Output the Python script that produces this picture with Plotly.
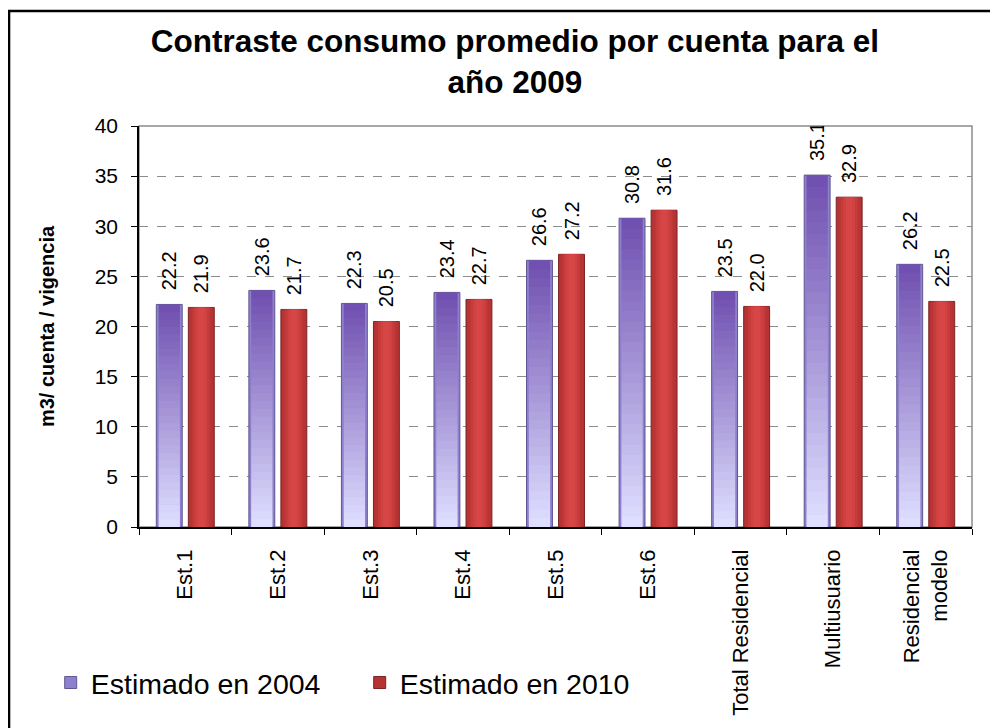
import plotly.graph_objects as go

categorias = ["Est.1", "Est.2", "Est.3", "Est.4", "Est.5", "Est.6",
              "Total Residencial", "Multiusuario", "Residencial<br>modelo"]
estimado_2004 = [22.2, 23.6, 22.3, 23.4, 26.6, 30.8, 23.5, 35.1, 26.2]
estimado_2010 = [21.9, 21.7, 20.5, 22.7, 27.2, 31.6, 22.0, 32.9, 22.5]

FONT = "Liberation Sans, Arial, sans-serif"
BAR_W = 0.28
OFF_04 = -0.313
OFF_10 = 0.033


def mix(c1, c2, t):
    a = [int(c1[i:i + 2], 16) for i in (1, 3, 5)]
    b = [int(c2[i:i + 2], 16) for i in (1, 3, 5)]
    return "rgb(%d,%d,%d)" % tuple(round(a[j] + (b[j] - a[j]) * t) for j in range(3))


def etiquetas(vals):
    return ["\u00a0\u00a0" + f"{v:.1f}" for v in vals]


fig = go.Figure()

# barra base 2004 (leyenda + etiquetas)
fig.add_trace(go.Bar(
    x=categorias, y=estimado_2004, name="Estimado en 2004",
    offset=OFF_04, width=BAR_W,
    marker=dict(color="#8f7fcf", line=dict(color="#5f5890", width=1)),
    text=etiquetas(estimado_2004), textposition="outside", textangle=-90,
    constraintext="none", textfont=dict(size=20, color="black", family=FONT),
))
# degradado vertical 2004: claro abajo, oscuro arriba
N = 30
inner = BAR_W - 0.05
for k in range(N):
    fig.add_trace(go.Bar(
        x=categorias, y=[v / N * (1.08 if k < N - 1 else 1) for v in estimado_2004],
        base=[v * k / N for v in estimado_2004],
        offset=OFF_04 + 0.025, width=inner,
        marker=dict(color=mix("#dedeff", "#7050b0", k / (N - 1)), line=dict(width=0)),
        showlegend=False, hoverinfo="skip",
    ))

# barra base 2010
fig.add_trace(go.Bar(
    x=categorias, y=estimado_2010, name="Estimado en 2010",
    offset=OFF_10, width=BAR_W,
    marker=dict(color="#b53333", line=dict(color="#7a2424", width=1)),
    text=etiquetas(estimado_2010), textposition="outside", textangle=-90,
    constraintext="none", textfont=dict(size=20, color="black", family=FONT),
))
# degradado horizontal 2010: bordes oscuros, centro claro
capas = [(0.85, "#b93535"), (0.65, "#c63b3b"), (0.45, "#d04141"), (0.25, "#d74646")]
for frac, col in capas:
    w = BAR_W * frac
    fig.add_trace(go.Bar(
        x=categorias, y=estimado_2010,
        offset=OFF_10 + (BAR_W - w) / 2, width=w,
        marker=dict(color=col, line=dict(width=0)),
        showlegend=False, hoverinfo="skip",
    ))

fig.update_layout(
    barmode="overlay",
    width=990, height=720,
    margin=dict(l=131, r=26, t=118, b=198),
    paper_bgcolor="white", plot_bgcolor="white",
    font=dict(family=FONT, color="black"),
    title=dict(
        text="<b>Contraste consumo promedio por cuenta para el<br>año 2009</b>",
        x=0.512, xanchor="center", y=0.939, yanchor="top",
        font=dict(size=31.5, color="black", family=FONT),
    ),
    xaxis=dict(
        type="category", showline=True, linecolor="black", linewidth=1.5,
        ticks="outside", tickson="boundaries", ticklen=6, tickcolor="black",
        tickangle=-90, tickfont=dict(size=22), ticklabelstandoff=12,
        showgrid=False, fixedrange=True,
    ),
    yaxis=dict(
        range=[0, 40], dtick=5, showline=True, linecolor="black", linewidth=1.5,
        ticks="outside", ticklen=6, tickcolor="black",
        tickfont=dict(size=21), ticklabelstandoff=9,
        showgrid=True, gridcolor="#8c8c8c", griddash="dash", gridwidth=1,
        zeroline=False,
        title=dict(text="<b>m3/ cuenta / vigencia</b>", font=dict(size=20), standoff=35),
    ),
    legend=dict(
        orientation="h", x=-0.106, xanchor="left", y=-0.389, yanchor="middle",
        font=dict(size=28.5), entrywidth=264, bgcolor="rgba(0,0,0,0)",
    ),
    shapes=[
        dict(type="rect", xref="paper", yref="paper", x0=0, x1=1, y0=0, y1=1,
             line=dict(color="#8c8c8c", width=1.5), layer="below"),
        dict(type="rect", xref="paper", yref="paper", x0=-0.156, x1=1.06,
             y0=-0.6, y1=1.287, line=dict(color="black", width=2.5)),
    ],
)

fig.write_html("out.html")
